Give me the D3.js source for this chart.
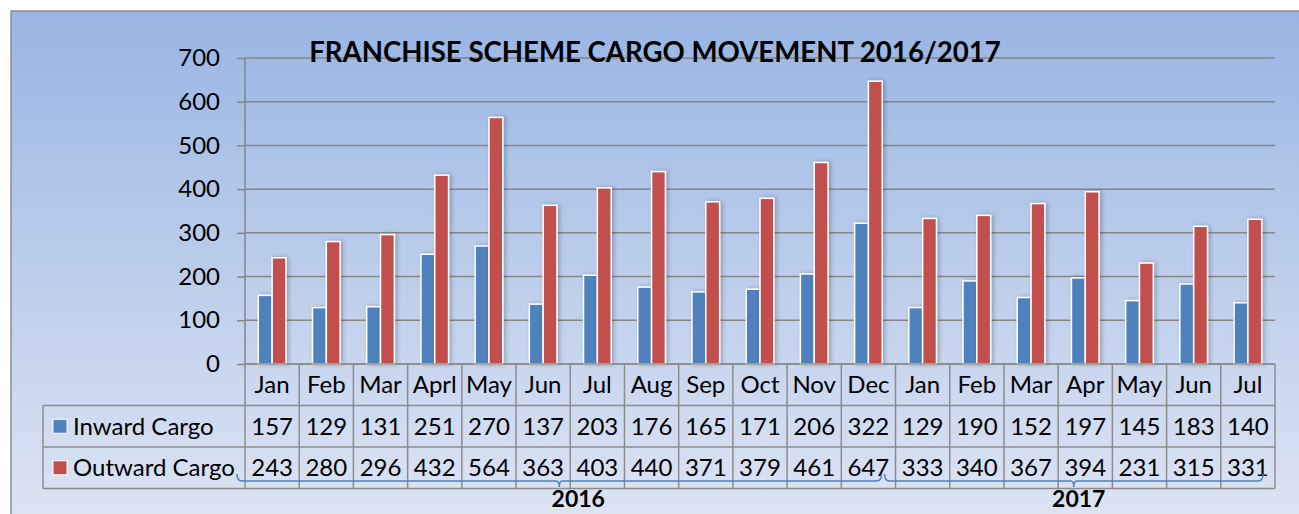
<!DOCTYPE html>
<html>
<head>
<meta charset="utf-8">
<script src="https://cdn.jsdelivr.net/npm/d3@7"></script>
<style>
  body { margin: 0; background: #fff; }
  text { font-family: Lato, "Open Sans", sans-serif; fill: #000; }
</style>
</head>
<body>
<script>
const width = 1299,
  height = 514;

// Data
const months = ["Jan", "Feb", "Mar", "Aprl", "May", "Jun", "Jul", "Aug", "Sep", "Oct", "Nov", "Dec",
  "Jan", "Feb", "Mar", "Apr", "May", "Jun", "Jul"];
const inward = [157, 129, 131, 251, 270, 137, 203, 176, 165, 171, 206, 322, 129, 190, 152, 197, 145, 183, 140];
const outward = [243, 280, 296, 432, 564, 363, 403, 440, 371, 379, 461, 647, 333, 340, 367, 394, 231, 315, 331];
const seriesNames = ["Inward Cargo", "Outward Cargo"];
const seriesColors = ["#4f81bd", "#c0504d"];
const years = ["2016", "2017"];
const yTicks = [0, 100, 200, 300, 400, 500, 600, 700];

const margin = { top: 58, left: 245, right: 24, bottom: 150 };
const plotLeft = margin.left, plotRight = width - margin.right;
const plotTop = margin.top, plotBottom = height - margin.bottom;
const rowH = 41.5;
const legendLeft = 43;

const svg = d3.select("body").append("svg")
  .attr("width", width)
  .attr("height", height);

const defs = svg.append("defs");
const grad = defs.append("linearGradient")
  .attr("id", "bg").attr("x1", 0).attr("y1", 0).attr("x2", 0).attr("y2", 1);
grad.append("stop").attr("offset", "0%").attr("stop-color", "#99b5e3");
grad.append("stop").attr("offset", "100%").attr("stop-color", "#dfe6f4");

const shadow = defs.append("filter").attr("id", "shadow")
  .attr("x", "-50%").attr("y", "-10%").attr("width", "200%").attr("height", "120%");
shadow.append("feDropShadow")
  .attr("dx", 2).attr("dy", 0).attr("stdDeviation", 2)
  .attr("flood-color", "#000").attr("flood-opacity", 0.25);

// chart frame
svg.append("rect")
  .attr("x", 11).attr("y", 11)
  .attr("width", width + 10).attr("height", height + 10)
  .attr("fill", "url(#bg)")
  .attr("stroke", "#8c8c8c").attr("stroke-width", 1.5);

// Scales
const x = d3.scaleBand()
  .domain(d3.range(months.length))
  .range([plotLeft, plotRight]);

const y = d3.scaleLinear()
  .domain([0, 700])
  .range([plotBottom, plotTop]);

const inner = d3.scaleBand()
  .domain([0, 1])
  .range([0, x.bandwidth()])
  .paddingOuter(0.96)
  .paddingInner(0);

// gridlines + y axis
const yAxis = d3.axisLeft(y).tickValues(yTicks).tickSize(8).tickPadding(17);
const yG = svg.append("g")
  .attr("transform", `translate(${plotLeft},0)`)
  .call(yAxis);
yG.select(".domain").remove();
yG.selectAll(".tick line").attr("stroke", "#868686").attr("stroke-width", 1.5);
yG.selectAll(".tick text").attr("font-size", 24).attr("font-family", "Lato, sans-serif");

svg.append("g")
  .selectAll("line")
  .data(yTicks)
  .join("line")
  .attr("x1", plotLeft).attr("x2", plotRight)
  .attr("y1", d => y(d)).attr("y2", d => y(d))
  .attr("stroke", "#868686").attr("stroke-width", 1.5);

svg.append("line")
  .attr("x1", plotLeft).attr("x2", plotLeft)
  .attr("y1", plotTop).attr("y2", plotBottom)
  .attr("stroke", "#868686").attr("stroke-width", 1.5);

// bars
const series = [inward, outward];
const barG = svg.append("g");
series.forEach((vals, s) => {
  barG.append("g")
    .selectAll("rect")
    .data(vals)
    .join("rect")
    .attr("x", (d, i) => x(i) + inner(s))
    .attr("y", d => y(d))
    .attr("width", inner.bandwidth())
    .attr("height", d => plotBottom - y(d))
    .attr("fill", seriesColors[s])
    .attr("stroke", "#fff")
    .attr("stroke-width", 1.5)
    .attr("filter", "url(#shadow)");
});

// data table
const table = svg.append("g").attr("stroke", "#8c8c8c").attr("stroke-width", 1.5);
const rowY = [plotBottom, plotBottom + rowH, plotBottom + 2 * rowH, plotBottom + 3 * rowH];
const colX = i => (i < months.length ? x(i) : plotRight);

table.append("line")
  .attr("x1", plotLeft).attr("x2", plotRight)
  .attr("y1", rowY[0]).attr("y2", rowY[0]);
[1, 2, 3].forEach(r => {
  table.append("line")
    .attr("x1", legendLeft).attr("x2", plotRight)
    .attr("y1", rowY[r]).attr("y2", rowY[r]);
});
table.append("line")
  .attr("x1", legendLeft).attr("x2", legendLeft)
  .attr("y1", rowY[1]).attr("y2", rowY[3]);
table.selectAll(".vline")
  .data(d3.range(months.length + 1))
  .join("line")
  .attr("x1", colX).attr("x2", colX)
  .attr("y1", rowY[0]).attr("y2", rowY[3]);

// month labels
svg.append("g")
  .selectAll("text")
  .data(months)
  .join("text")
  .attr("x", (d, i) => x(i) + x.bandwidth() / 2)
  .attr("y", rowY[0] + 29)
  .attr("text-anchor", "middle")
  .attr("font-size", 24)
  .text(d => d);

// values
series.forEach((vals, s) => {
  svg.append("g")
    .selectAll("text")
    .data(vals)
    .join("text")
    .attr("x", (d, i) => x(i) + x.bandwidth() / 2)
    .attr("y", rowY[s + 1] + 29)
    .attr("text-anchor", "middle")
    .attr("font-size", 24)
    .text(d => d);
});

// legend keys in table
seriesNames.forEach((name, s) => {
  svg.append("rect")
    .attr("x", 53).attr("y", rowY[s + 1] + rowH / 2 - 7)
    .attr("width", 14).attr("height", 14)
    .attr("fill", seriesColors[s])
    .attr("stroke", "#fff").attr("stroke-width", 1);
  svg.append("text")
    .attr("x", 73).attr("y", rowY[s + 1] + 29)
    .attr("font-size", 24)
    .text(name);
});

// year brackets
const bracketY = 481;
const spans = [
  [plotLeft - 8, x(12) - 14, 19],
  [x(12) - 11, plotRight - 12, 5]
];
years.forEach((label, k) => {
  const [x0, x1, off] = spans[k];
  const mid = (x0 + x1) / 2;
  svg.append("path")
    .attr("d", `M${x0},${bracketY - 7} Q${x0},${bracketY} ${x0 + 5},${bracketY}
      L${mid - 3},${bracketY} Q${mid},${bracketY} ${mid},${bracketY + 6}
      Q${mid},${bracketY} ${mid + 3},${bracketY} L${x1 - 5},${bracketY}
      Q${x1},${bracketY} ${x1},${bracketY - 7}`)
    .attr("fill", "none")
    .attr("stroke", "#4f81bd")
    .attr("stroke-width", 1.5);
  svg.append("text")
    .attr("x", mid + off)
    .attr("y", 507)
    .attr("text-anchor", "middle")
    .attr("font-size", 23)
    .attr("font-weight", "bold")
    .text(label);
});

// title
svg.append("text")
  .attr("x", 655)
  .attr("y", 62)
  .attr("text-anchor", "middle")
  .attr("font-size", 27.6)
  .attr("font-weight", "bold")
  .text("FRANCHISE SCHEME CARGO MOVEMENT 2016/2017");
</script>
</body>
</html>
